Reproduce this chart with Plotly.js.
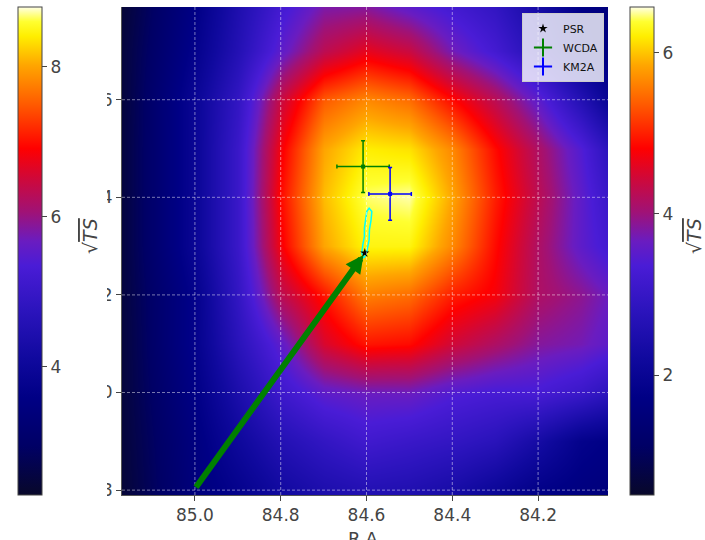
<!DOCTYPE html>
<html>
<head>
<meta charset="utf-8">
<script src="https://cdn.plot.ly/plotly-3.0.1.min.js"></script>
<style>html,body{margin:0;padding:0;background:#fff;}#chart{width:705px;height:540px;}</style>
</head>
<body>
<div id="chart"></div>
<script>
// Heatmap grid (sqrt(TS) values)
const raGrid = [85.17, 85.0, 84.9, 84.8, 84.7, 84.6, 84.5, 84.4, 84.3, 84.2, 84.1, 84.037];
const decGrid = [28.79, 28.7, 28.6, 28.5, 28.4, 28.3, 28.2, 28.1, 28.0, 27.9, 27.79];
const sqrtTS = [
  [0.65, 1.72, 2.51, 3.24, 3.78, 3.84, 3.54, 3.24, 2.93, 2.33, 1.72, 1.55],
  [0.70, 1.84, 2.63, 3.54, 4.27, 4.63, 4.39, 3.72, 3.24, 2.63, 1.84, 1.60],
  [0.70, 2.03, 2.93, 4.39, 5.36, 5.66, 5.48, 4.87, 4.27, 3.54, 2.63, 2.03],
  [0.72, 2.03, 3.06, 4.75, 5.84, 6.21, 6.15, 5.66, 4.87, 4.15, 3.42, 2.81],
  [0.72, 2.03, 3.06, 4.87, 5.96, 6.45, 6.51, 5.84, 4.99, 4.27, 3.54, 3.06],
  [0.72, 2.03, 3.06, 4.75, 5.84, 6.27, 6.27, 5.66, 4.87, 4.15, 3.54, 3.24],
  [0.72, 1.84, 2.93, 4.27, 4.93, 5.60, 5.48, 4.99, 4.75, 4.15, 3.90, 3.66],
  [0.70, 1.84, 2.75, 3.54, 4.51, 4.93, 4.87, 4.45, 4.15, 3.84, 3.72, 3.54],
  [0.70, 1.72, 2.45, 3.12, 3.54, 3.66, 3.66, 3.42, 3.30, 3.30, 3.06, 2.81],
  [0.68, 1.60, 2.15, 2.63, 2.93, 3.18, 3.06, 2.93, 2.75, 2.33, 1.84, 1.72],
  [0.65, 1.54, 1.84, 2.21, 2.45, 2.57, 2.51, 2.33, 2.03, 1.72, 1.60, 1.54]
];
const rightRange = [0.51, 6.57];
const leftRange = [2.29, 8.8];

// Sources
const psrRA = [84.604];
const psrDec = [28.286];
const wcdaRA = [84.608];
const wcdaDec = [28.463];
const wcdaErrRA = [0.061];
const wcdaErrDec = [0.053];
const km2aRA = [84.545];
const km2aDec = [28.407];
const km2aErrRA = [0.0495];
const km2aErrDec = [0.054];

// Contour (cyan)
const contourRA = [84.6072, 84.6110, 84.6086, 84.6049, 84.6049, 84.6009, 84.5993, 84.5939, 84.5876, 84.5893, 84.5932, 84.5939, 84.5979, 84.6009, 84.6072];
const contourDec = [28.2753, 28.2855, 28.3026, 28.3196, 28.3368, 28.3573, 28.3709, 28.3778, 28.3709, 28.3538, 28.3333, 28.3128, 28.2958, 28.2821, 28.2753];

// Arrow
const arrowTail = [85.0, 27.803];
const arrowTip = [84.607, 28.282];

// Ticks
const xTicks = [85.0, 84.8, 84.6, 84.4, 84.2];
const yTicks = [27.8, 28.0, 28.2, 28.4, 28.6];
const xRange = [85.17, 84.037];
const yRange = [27.79, 28.79];
const cbTitle = '√<span style="text-decoration:overline"><i>TS</i></span>';
const xTitle = 'R.A.';

const cscale = [
  [0.0, '#08082a'], [0.1, '#000065'], [0.2, '#000085'], [0.28, '#10099e'],
  [0.38, '#2c14bd'], [0.47, '#4a1cd6'], [0.52, '#6a1cc0'], [0.58, '#a01276'],
  [0.65, '#d00838'], [0.71, '#ff0000'], [0.8, '#ff5a00'], [0.88, '#ffa500'],
  [0.94, '#ffee00'], [0.97, '#ffff30'], [1.0, '#ffffe6']
];

const txtColor = '#444';
const cbCommon = {
  thickness: 24, thicknessmode: 'pixels', len: 1, lenmode: 'fraction',
  y: 0.5, yanchor: 'middle', xanchor: 'left', xpad: 0, ypad: 0,
  outlinewidth: 1, outlinecolor: '#444',
  ticks: 'outside', ticklen: 5, tickwidth: 1, tickcolor: '#444', dtick: 2, tick0: 0,
  tickfont: {family: 'DejaVu Sans', size: 17, color: txtColor},
  title: {text: ''}
};

const traces = [
  {
    type: 'heatmap', x: raGrid, y: decGrid, z: sqrtTS, zsmooth: 'best',
    colorscale: cscale, zmin: rightRange[0], zmax: rightRange[1], hoverinfo: 'skip',
    colorbar: Object.assign({}, cbCommon, {x: (630 - 122) / 486})
  },
  {
    type: 'heatmap', x: [100, 101], y: [0, 1], z: [[leftRange[0], leftRange[1]], [leftRange[0], leftRange[1]]],
    colorscale: cscale, zmin: leftRange[0], zmax: leftRange[1], hoverinfo: 'skip',
    colorbar: Object.assign({}, cbCommon, {x: (18 - 122) / 486})
  },
  {
    type: 'scatter', mode: 'lines', x: contourRA, y: contourDec, showlegend: false,
    line: {color: '#00ffff', width: 1.5}, hoverinfo: 'skip'
  },
  {
    type: 'scatter', mode: 'markers', name: 'PSR', x: psrRA, y: psrDec,
    marker: {symbol: 'star', size: 7, color: 'black'}
  },
  {
    type: 'scatter', mode: 'markers', name: 'WCDA', x: wcdaRA, y: wcdaDec, showlegend: false,
    marker: {symbol: 'square', size: 4, color: '#008000'},
    error_x: {type: 'data', array: wcdaErrRA, color: '#008000', thickness: 1.5, width: 2},
    error_y: {type: 'data', array: wcdaErrDec, color: '#008000', thickness: 1.5, width: 2}
  },
  {
    type: 'scatter', mode: 'markers', name: 'KM2A', x: km2aRA, y: km2aDec, showlegend: false,
    marker: {symbol: 'square', size: 4, color: '#0000ff'},
    error_x: {type: 'data', array: km2aErrRA, color: '#0000ff', thickness: 1.5, width: 2},
    error_y: {type: 'data', array: km2aErrDec, color: '#0000ff', thickness: 1.5, width: 2}
  },
  {
    type: 'scatter', mode: 'markers', name: 'WCDA', x: [null], y: [null],
    marker: {symbol: 'cross-thin-open', size: 13, color: '#008000', line: {color: '#008000', width: 2}}
  },
  {
    type: 'scatter', mode: 'markers', name: 'KM2A', x: [null], y: [null],
    marker: {symbol: 'cross-thin-open', size: 13, color: '#0000ff', line: {color: '#0000ff', width: 2}}
  }
];

const shapes = [];
// white cover that hides the left parts of the y tick labels (colorbar overlap)
shapes.push({type: 'rect', xref: 'paper', yref: 'paper', x0: -0.26, x1: (107 - 122) / 486, y0: -0.1, y1: 1.02,
  fillcolor: '#ffffff', line: {width: 0}, layer: 'above'});
const gridStyle = {color: 'rgba(255,255,255,0.6)', width: 0.8, dash: '3px,2px'};
xTicks.forEach(v => shapes.push({type: 'line', xref: 'x', yref: 'paper', x0: v, x1: v, y0: 0, y1: 1, line: gridStyle, layer: 'above'}));
yTicks.forEach(v => shapes.push({type: 'line', xref: 'paper', yref: 'y', x0: 0, x1: 1, y0: v, y1: v, line: gridStyle, layer: 'above'}));

const layout = {
  width: 705, height: 540,
  margin: {l: 122, r: 97, t: 7, b: 45, pad: 0},
  paper_bgcolor: '#ffffff', plot_bgcolor: '#000070',
  font: {family: 'DejaVu Sans', color: txtColor},
  showlegend: true,
  xaxis: {
    range: xRange, tickvals: xTicks, tickformat: '.1f', showgrid: false, zeroline: false,
    ticks: 'outside', ticklen: 5, tickcolor: '#444', showline: true, linecolor: '#555', linewidth: 1,
    tickfont: {size: 17, color: txtColor}
  },
  yaxis: {
    range: yRange, tickvals: yTicks, tickformat: '.1f', showgrid: false, zeroline: false,
    ticks: 'outside', ticklen: 5, tickcolor: '#444', showline: true, linecolor: '#555', linewidth: 1,
    tickfont: {size: 17, color: txtColor}
  },
  legend: {
    x: (604 - 122) / 486, xanchor: 'right', y: (495 - 13) / 488, yanchor: 'top',
    bgcolor: 'rgba(255,255,255,0.8)', bordercolor: '#cccccc', borderwidth: 1,
    font: {family: 'DejaVu Sans', size: 11, color: '#111'}, tracegroupgap: 0
  },
  shapes: shapes,
  annotations: [
    {
      x: arrowTip[0], y: arrowTip[1], ax: arrowTail[0], ay: arrowTail[1],
      xref: 'x', yref: 'y', axref: 'x', ayref: 'y', text: '', showarrow: true,
      arrowcolor: '#008000', arrowwidth: 6, arrowhead: 2, arrowsize: 0.6, standoff: 0
    },
    {
      text: cbTitle, textangle: -90, showarrow: false, xref: 'paper', yref: 'paper',
      x: (90 - 122) / 486, y: (495 - 236) / 488, xanchor: 'center', yanchor: 'middle',
      font: {family: 'DejaVu Sans', size: 19, color: txtColor}
    },
    {
      text: cbTitle, textangle: -90, showarrow: false, xref: 'paper', yref: 'paper',
      x: (694 - 122) / 486, y: (495 - 236) / 488, xanchor: 'center', yanchor: 'middle',
      font: {family: 'DejaVu Sans', size: 19, color: txtColor}
    },
    {
      text: xTitle, showarrow: false, xref: 'paper', yref: 'paper',
      x: 0.5, y: (495 - 526) / 488, xanchor: 'center', yanchor: 'top',
      font: {family: 'DejaVu Sans', size: 18, color: txtColor}
    }
  ]
};

Plotly.newPlot('chart', traces, layout, {staticPlot: true, displayModeBar: false});
</script>
</body>
</html>
